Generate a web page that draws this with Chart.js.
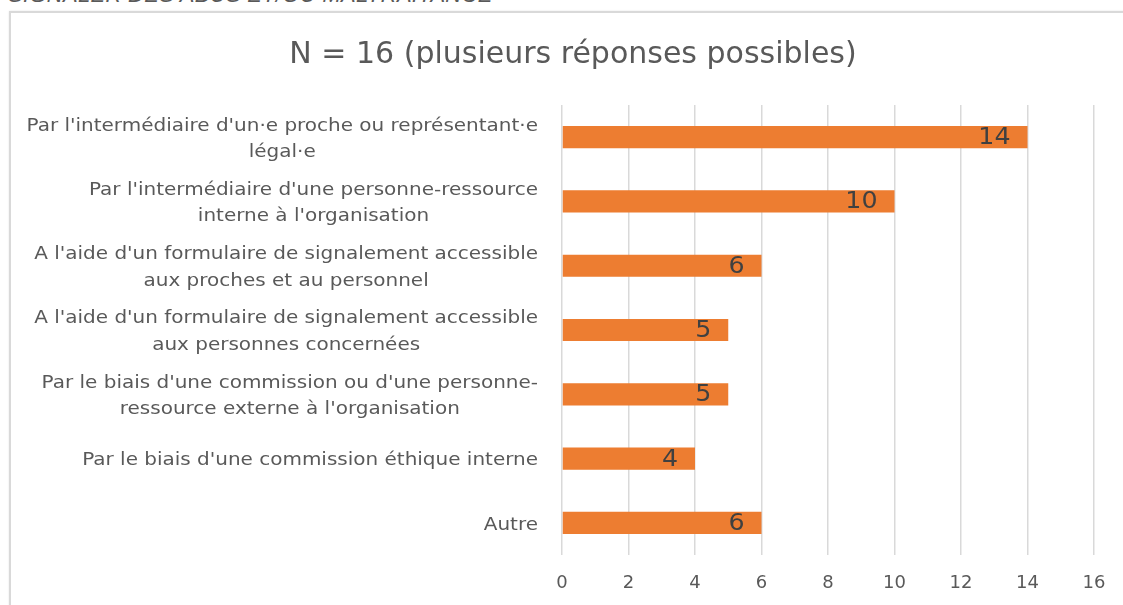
<!DOCTYPE html>
<html>
<head>
<meta charset="utf-8">
<script src="https://cdn.jsdelivr.net/npm/chart.js@4/dist/chart.umd.min.js"></script>
<style>
html,body{margin:0;padding:0;background:#fff;width:1123px;height:605px;overflow:hidden;position:relative;}
#head{position:absolute;left:8px;top:-18px;font-family:"Liberation Sans",Arial,sans-serif;font-style:italic;font-size:22px;color:#595959;white-space:nowrap;letter-spacing:0.3px;}
#frame{position:absolute;left:9px;top:11px;width:1200px;height:700px;border:2px solid #d9d9d9;box-shadow:0 0 2px #e6e6e6;}
#c{position:absolute;left:11px;top:13px;}
</style>
</head>
<body>
<div id="head">SIGNALER DES ABUS ET/OU MALTRAITANCE</div>
<div id="frame"></div>
<canvas id="c" width="1124" height="600"></canvas>
<script>
const categories = [
  ["Par l'intermédiaire d'un·e proche ou représentant·e", "légal·e"],
  ["Par l'intermédiaire d'une personne-ressource", "interne à l'organisation"],
  ["A l'aide d'un formulaire de signalement accessible", "aux proches et au personnel"],
  ["A l'aide d'un formulaire de signalement accessible", "aux personnes concernées"],
  ["Par le biais d'une commission ou d'une personne-", "ressource externe à l'organisation"],
  ["Par le biais d'une commission éthique interne"],
  ["Autre"]
];
const values = [14, 10, 6, 5, 5, 4, 6];
const xMin = 0, xMax = 16, xStep = 2;
const titleText = "N = 16 (plusieurs réponses possibles)";

const FONT = '"DejaVu Sans", "Open Sans", sans-serif';
const GRAY = '#595959';
const STRETCH = 1.11;

const labelPlugin = {
  id: 'customLabels',
  afterDatasetsDraw(chart) {
    const ctx = chart.ctx;
    const ys = chart.scales.y;
    const area = chart.chartArea;
    ctx.save();
    ctx.font = '18px ' + FONT;
    ctx.fillStyle = GRAY;
    ctx.textBaseline = 'middle';
    ctx.textAlign = 'center';
    const lh = 26.5;
    categories.forEach((lines, i) => {
      const y = ys.getPixelForTick(i);
      let w = 0;
      lines.forEach(l => { w = Math.max(w, ctx.measureText(l).width * STRETCH); });
      const cx = area.left - 24 - w / 2;
      const y0 = y - (lines.length - 1) * lh / 2 + 2;
      lines.forEach((l, k) => {
        ctx.save();
        ctx.translate(cx, y0 + k * lh);
        ctx.scale(STRETCH, 1);
        ctx.fillText(l, 0, 0);
        ctx.restore();
      });
    });
    ctx.font = '23px ' + FONT;
    ctx.fillStyle = '#404040';
    ctx.textAlign = 'right';
    const meta = chart.getDatasetMeta(0);
    meta.data.forEach((bar, i) => {
      ctx.save();
      ctx.translate(bar.x - 17, bar.y + 1);
      ctx.scale(1.1, 1);
      ctx.fillText(String(values[i]), 0, 0);
      ctx.restore();
    });
    ctx.restore();
  }
};

new Chart(document.getElementById('c'), {
  type: 'bar',
  data: {
    labels: categories,
    datasets: [{
      data: values,
      backgroundColor: '#ED7D31',
      borderWidth: 0,
      barPercentage: 0.345,
      categoryPercentage: 1
    }]
  },
  options: {
    indexAxis: 'y',
    responsive: false,
    animation: false,
    layout: { padding: { left: 41, right: 41, top: 0, bottom: 8 } },
    plugins: {
      legend: { display: false },
      tooltip: { enabled: false },
      title: {
        display: true,
        text: titleText,
        color: GRAY,
        font: { family: FONT, size: 30, weight: 'normal' },
        padding: { top: 24, bottom: 32 }
      }
    },
    scales: {
      y: {
        type: 'category',
        ticks: { display: false },
        grid: { display: false },
        border: { display: false },
        afterFit(scale) { scale.width = 510; }
      },
      x: {
        position: 'bottom',
        min: xMin, max: xMax,
        ticks: { stepSize: xStep, color: GRAY, font: { family: FONT, size: 18 }, padding: 18 },
        grid: { color: '#d9d9d9', lineWidth: 1.5, drawTicks: false },
        border: { display: false },
        afterFit(scale) { scale.height = 50; }
      }
    }
  },
  plugins: [labelPlugin]
});
</script>
</body>
</html>
